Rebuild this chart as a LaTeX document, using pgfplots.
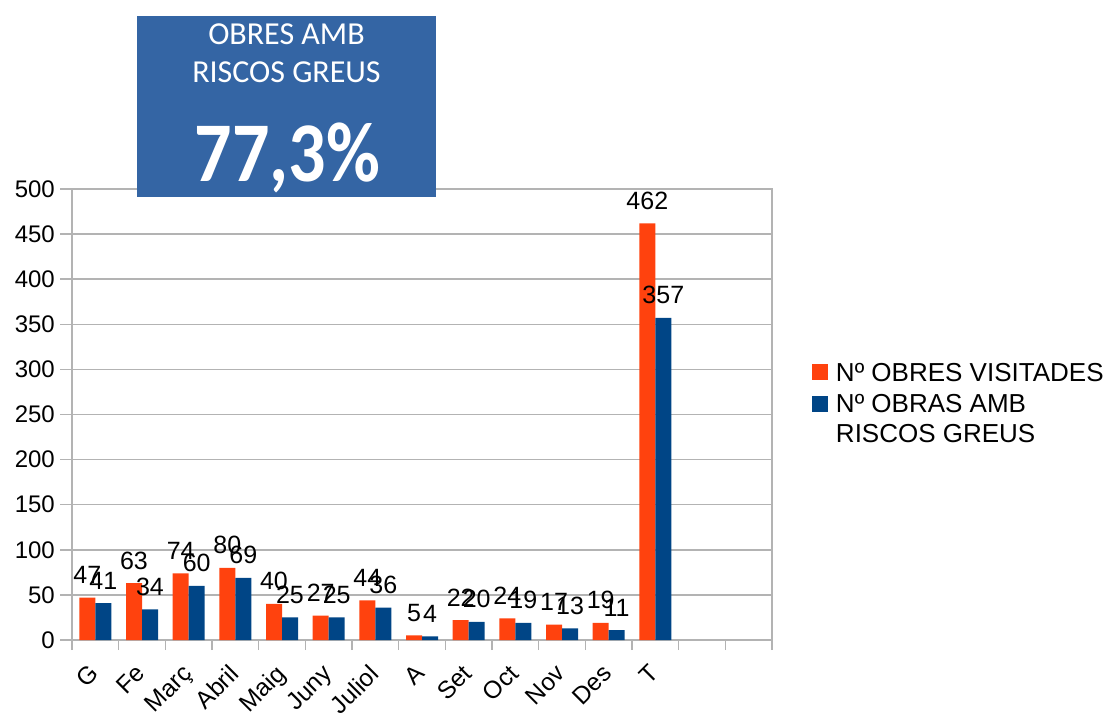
\documentclass[border=0pt]{standalone}
\usepackage{pgfplots}
\pgfplotsset{compat=1.18}
\usepackage{fontspec}
\setmainfont{Liberation Sans}
\newfontfamily\carlito{Carlito}
\definecolor{lorange}{RGB}{255,66,14}
\definecolor{lblue}{RGB}{0,69,134}
\definecolor{boxblue}{RGB}{52,101,164}
\definecolor{gridgray}{RGB}{179,179,179}
\begin{document}
\begin{tikzpicture}
\useasboundingbox (0,0) rectangle (1115pt,713pt);
\begin{axis}[
  at={(72pt,73pt)}, anchor=south west,
  scale only axis, width=700pt, height=451pt,
  xmin=-0.5, xmax=14.5, ymin=0, ymax=500,
  ybar=0pt, bar width=16pt,
  xtick={0,...,14},
  xticklabels={G,Fe,Març,Abril,Maig,Juny,Juliol,A,Set,Oct,Nov,Des,T,{},{}},
  minor xtick={-0.5,0.5,...,14.5},
  ytick={0,50,...,500},
  tick align=outside,
  xtick pos=bottom, ytick pos=left,
  major tick length=12pt, minor tick length=10pt,
  major x tick style={draw=none},
  ymajorgrids,
  grid style={gridgray, line width=1.5pt},
  axis line style={gridgray, line width=1.5pt},
  every tick/.style={gridgray, line width=1.5pt},
  /pgf/number format/assume math mode=true,
  yticklabel style={font=\fontsize{24}{28}\selectfont, inner sep=0pt, xshift=-5pt},
  xticklabel style={font=\fontsize{24.5}{28}\selectfont, inner sep=0pt, xshift=-7.5pt, yshift=-11pt, rotate=45, anchor=north east},
  nodes near coords,
  every node near coord/.append style={font=\fontsize{25}{28}\selectfont, text=black, anchor=base, inner sep=0pt, yshift=14pt},
  legend image code/.code={\fill[#1] (0pt,1pt) rectangle (16pt,17pt);},
  legend style={at={(1.0571,0.614)}, anchor=north west, draw=none, fill=none,
    inner sep=0pt, outer sep=0pt, font=\fontsize{26}{30}\selectfont,
    cells={anchor=base west}, nodes={inner sep=0pt}, row sep=12pt, column sep=8pt},
]
\addplot[fill=lorange, draw=none] coordinates {(0,47) (1,63) (2,74) (3,80) (4,40) (5,27) (6,44) (7,5) (8,22) (9,24) (10,17) (11,19) (12,462)};
\addplot[fill=lblue, draw=none] coordinates {(0,41) (1,34) (2,60) (3,69) (4,25) (5,25) (6,36) (7,4) (8,20) (9,19) (10,13) (11,11) (12,357)};
\legend{Nº OBRES VISITADES, {\vtop{\hbox{Nº OBRAS AMB}\hbox{RISCOS GREUS}}}}
\end{axis}
\fill[boxblue] (137pt,516pt) rectangle (436pt,697pt);
\node[anchor=base, text=white, inner sep=0pt, font=\carlito\fontsize{32}{38}\selectfont] at (286.5pt,668pt) {OBRES AMB};
\node[anchor=base, text=white, inner sep=0pt, font=\carlito\fontsize{32}{38}\selectfont] at (286.5pt,630pt) {RISCOS GREUS};
\node[anchor=base, text=white, inner sep=0pt, font=\carlito\bfseries\fontsize{85}{90}\selectfont] at (287.5pt,531pt) {\scalebox{0.87}[1]{77,3\%}};
\end{tikzpicture}
\end{document}
